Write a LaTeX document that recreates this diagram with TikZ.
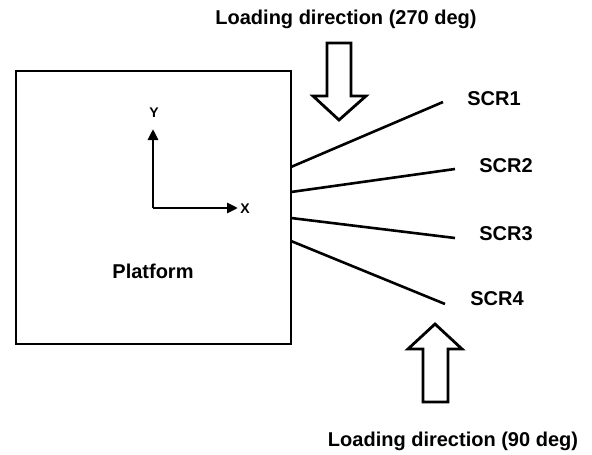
\documentclass[tikz,border=0pt]{standalone}
\usepackage{fontspec}
\setmainfont{Liberation Sans}
\usetikzlibrary{arrows.meta}
\begin{document}
\begin{tikzpicture}[x=1pt,y=-1pt,
  lbl/.style={font=\fontsize{20}{24}\selectfont\bfseries, inner sep=0pt},
  axlbl/.style={font=\fontsize{14}{16}\selectfont\bfseries, inner sep=0pt},
  cable/.style={line width=2.6pt},
  axis/.style={line width=2.8pt, -{Triangle[length=11pt,width=10pt]}},
  hollow/.style={line width=2.8pt, line join=miter}]
\useasboundingbox (0,0) rectangle (592,455);

% platform outline
\node[draw, line width=2.8pt, minimum width=275pt, minimum height=273pt, inner sep=0pt]
  (platform) at (153.5,207.5) {};
\node[lbl] (plabel) at (153,271) {Platform};

% local axes
\coordinate (origin) at (153,208);
\coordinate (ytip) at (153,129);
\coordinate (xtip) at (238,208);
\draw[axis] (origin) -- (ytip);
\draw[axis] (origin) -- (xtip);
\node[axlbl] (ylab) at (154,113) {Y};
\node[axlbl] (xlab) at (245,209) {X};

% fairlead points and cable ends
\coordinate (f1) at (291,167);
\coordinate (f2) at (291,192);
\coordinate (f3) at (291,218);
\coordinate (f4) at (291,241);
\coordinate (e1) at (443,102);
\coordinate (e2) at (455,169);
\coordinate (e3) at (455,238);
\coordinate (e4) at (445,304);
\draw[cable] (f1) -- (e1);
\draw[cable] (f2) -- (e2);
\draw[cable] (f3) -- (e3);
\draw[cable] (f4) -- (e4);
\node[lbl] (scr1) at (494,99) {SCR1};
\node[lbl] (scr2) at (506,166) {SCR2};
\node[lbl] (scr3) at (506,234) {SCR3};
\node[lbl] (scr4) at (497,299) {SCR4};

% loading direction arrows
\draw[hollow] (327,43) -- (351,43) -- (351,96) -- (366,96) -- (339,120)
  -- (313,96) -- (327,96) -- cycle;
\draw[hollow] (423,402) -- (448,402) -- (448,349) -- (462,349) -- (435,324)
  -- (408,349) -- (423,349) -- cycle;
\node[lbl] (load270) at (346,19) {Loading direction (270 deg)};
\node[lbl] (load90) at (453,441) {Loading direction (90 deg)};
\end{tikzpicture}
\end{document}
